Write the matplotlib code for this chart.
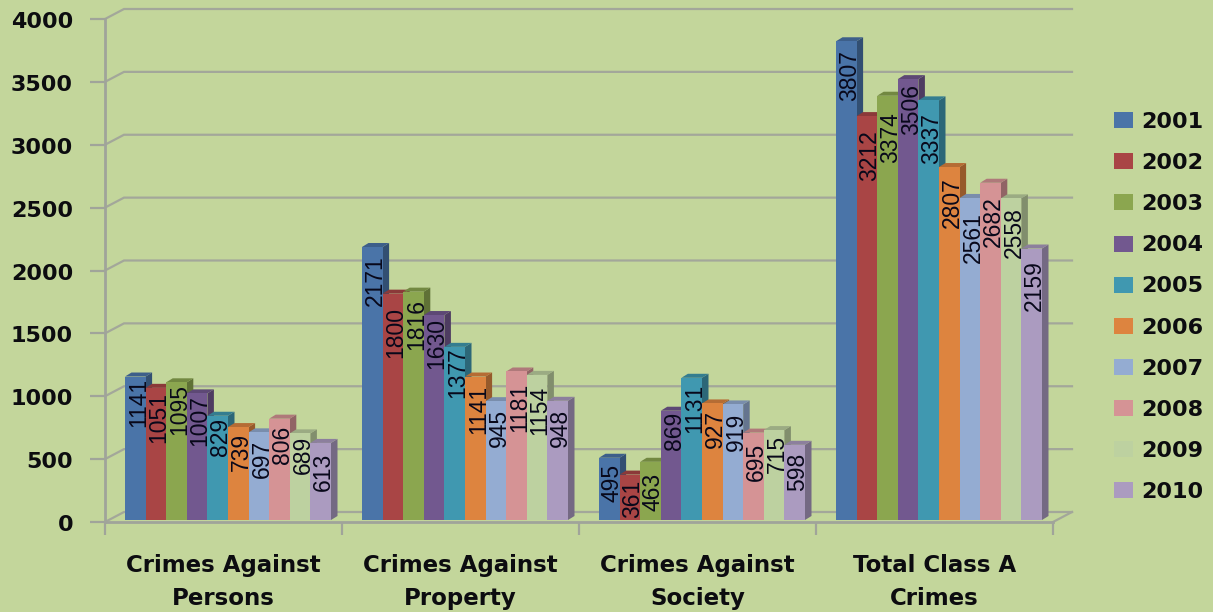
import matplotlib
matplotlib.use("Agg")
import matplotlib.pyplot as plt
from matplotlib.colors import to_rgb
from matplotlib.patches import Polygon
from matplotlib.transforms import ScaledTranslation

categories = ["Crimes Against\nPersons", "Crimes Against\nProperty",
              "Crimes Against\nSociety", "Total Class A\nCrimes"]
years = ["2001", "2002", "2003", "2004", "2005", "2006", "2007", "2008", "2009", "2010"]
persons = [1141, 1051, 1095, 1007, 829, 739, 697, 806, 689, 613]
prop = [2171, 1800, 1816, 1630, 1377, 1141, 945, 1181, 1154, 948]
society = [495, 361, 463, 869, 1131, 927, 919, 695, 715, 598]
total = [3807, 3212, 3374, 3506, 3337, 2807, 2561, 2682, 2558, 2159]
groups = [persons, prop, society, total]
yticks = [0, 500, 1000, 1500, 2000, 2500, 3000, 3500, 4000]
colors = ["#4A74A8", "#A94545", "#8BA64F", "#72588F", "#4098B0",
          "#DD843F", "#94ACD2", "#D59395", "#BDD1A0", "#AB9BC0"]
# distance in pixels from each bar's top to the start of its label
label_drop = [[1, 4, 2, 2, 2, 6, 8, 7, 2, 10],
              [8, 13, 7, 3, 0, 8, 8, 11, 11, 8],
              [6, 5, 11, 1, 6, 7, 8, 10, 5, 8],
              [9, 14, 17, 5, 13, 10, 14, 14, 9, 12]]

W, H = 1213, 612
BG = "#C3D69B"
GRID = "#A3A79A"
AXC = "#A0A49A"
TXT = "#0C0C10"
PX_X = 1 / 237          # category units per pixel
PX_Y = 4000 / 503       # value units per pixel
BAR_W = 20.6 * PX_X
SHIFT = 4.5 * PX_X
BAR_DX, BAR_DY = 6.5 * PX_X, 4 * PX_Y
WALL_DX, WALL_DY = 19 * PX_X, 10 * PX_Y
BASE = 2 * PX_Y         # bars stand slightly behind the front edge of the floor
LABEL_DX = 3 * PX_X

plt.rcParams["font.family"] = ["DejaVu Sans"]
fig = plt.figure(figsize=(W / 100, H / 100), dpi=100, facecolor=BG)
ax = fig.add_axes([105 / W, 1 - 522 / H, 948 / W, 503 / H], facecolor="none")
ax.set_xlim(0, 4)
ax.set_ylim(0, 4000)
for s in ("top", "right"):
    ax.spines[s].set_visible(False)
for s in ("left", "bottom"):
    ax.spines[s].set_color(AXC)
    ax.spines[s].set_linewidth(2)


def shade(color, f):
    return tuple(c * f for c in to_rgb(color))


# walls: gridlines with their diagonal run from the front axis
for v in yticks:
    ax.plot([0, WALL_DX, 4 + WALL_DX], [v, v + WALL_DY, v + WALL_DY],
            color=GRID, lw=1.6, clip_on=False, zorder=1, solid_joinstyle="miter")
ax.plot([4, 4 + WALL_DX], [0, WALL_DY], color=GRID, lw=1.6, clip_on=False, zorder=1)

z = 2
handles = []
for g, vals in enumerate(groups):
    for j, v in enumerate(vals):
        x0 = g + 0.5 + SHIFT + (j - 5) * BAR_W
        x1 = x0 + BAR_W
        col = colors[j]
        top = v + BASE
        ax.add_patch(Polygon([(x1, BASE), (x1 + BAR_DX, BASE + BAR_DY), (x1 + BAR_DX, top + BAR_DY), (x1, top)],
                             closed=True, fc=shade(col, 0.68), ec="none", zorder=z, clip_on=False))
        ax.add_patch(Polygon([(x0, top), (x0 + BAR_DX, top + BAR_DY), (x1 + BAR_DX, top + BAR_DY), (x1, top)],
                             closed=True, fc=shade(col, 0.82), ec="none", zorder=z, clip_on=False))
        b = ax.bar(x0 + BAR_W / 2, v, BAR_W, bottom=BASE, color=col, zorder=z + 0.5, clip_on=False,
                   label=years[j] if g == 0 else None)
        if g == 0:
            handles.append(b)
        z += 1

# labels sit above every bar
for g, vals in enumerate(groups):
    for j, v in enumerate(vals):
        x = g + 0.5 + SHIFT + (j - 4.5) * BAR_W + LABEL_DX
        ax.text(x, v + BASE - label_drop[g][j] * PX_Y, str(v), rotation=90, ha="center", va="top",
                fontsize=16.5, color="#08081A", zorder=500, family="Liberation Sans")

ax.set_yticks(yticks)
ax.set_yticklabels([str(v) for v in yticks], fontsize=16, fontweight="bold", color=TXT)
ax.tick_params(axis="y", length=11, width=1.6, color=AXC, pad=12)
down = ScaledTranslation(0, -1.0 / 100, fig.dpi_scale_trans)
for lab in ax.get_yticklabels():
    lab.set_transform(lab.get_transform() + down)
ax.set_xticks([0, 1, 2, 3, 4])
ax.set_xticklabels([])
ax.tick_params(axis="x", which="major", length=9, width=1.6, color=AXC)
ax.set_xticks([0.5, 1.5, 2.5, 3.5], minor=True)
ax.set_xticklabels(categories, minor=True, fontsize=16.5, fontweight="bold", color=TXT,
                   linespacing=1.56)
ax.tick_params(axis="x", which="minor", length=0, pad=23)

fig.legend(handles=handles, labels=years, frameon=False, loc="center left",
           bbox_to_anchor=(1114 / W, 1 - 307 / H), borderpad=0, borderaxespad=0,
           prop={"size": 16, "weight": "bold"}, labelcolor=TXT,
           handlelength=0.86, handleheight=0.73, handletextpad=0.36, labelspacing=0.95)

fig.savefig("out.png", dpi=100, facecolor=BG)
